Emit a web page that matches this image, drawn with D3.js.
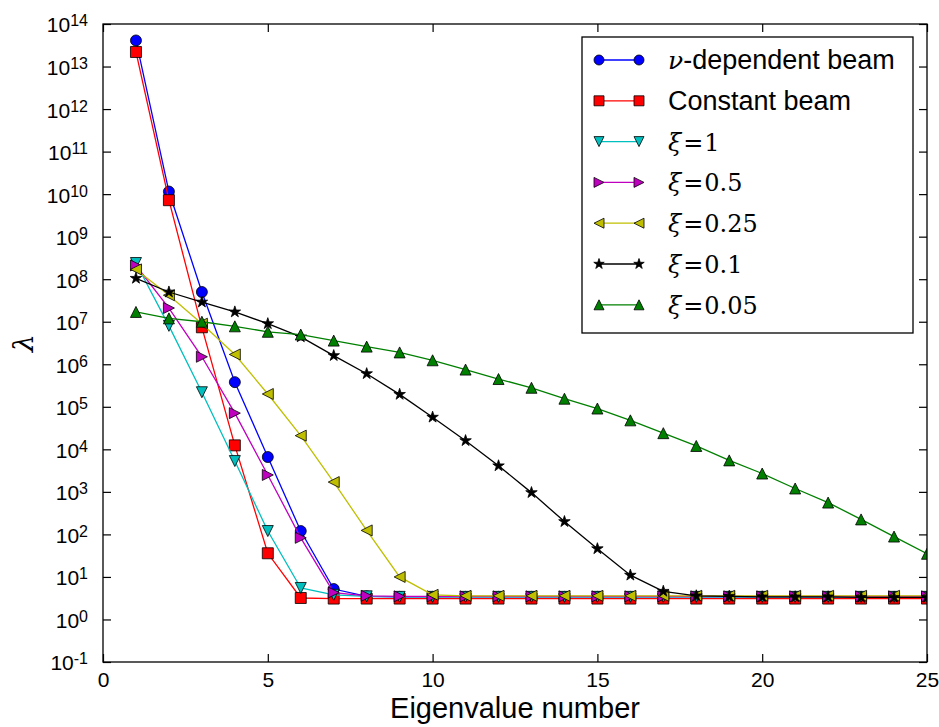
<!DOCTYPE html>
<html><head><meta charset="utf-8">
<script src="https://cdn.jsdelivr.net/npm/d3@7"></script>
<style>body{margin:0;background:#fff}</style>
</head><body><svg id="c" width="939" height="727"></svg>
<script>
// ---------- data ----------
const eigenNumber = [1,2,3,4,5,6,7,8,9,10,11,12,13,14,15,16,17,18,19,20,21,22,23,24,25];
const nuBeam   = [4.1e13,1.15e10,5.0e7,3.8e5,6.6e3,1.2e2,5.2,3.5,3.4,3.4,3.4,3.4,3.4,3.4,3.4,3.4,3.4,3.4,3.4,3.4,3.4,3.4,3.4,3.4,3.4];
const constBeam= [2.2e13,7.2e9,7.4e6,1.24e4,36,3.2,3.1,3.1,3.1,3.1,3.1,3.1,3.1,3.1,3.1,3.1,3.1,3.1,3.1,3.1,3.1,3.1,3.1,3.1,3.1];
const xi1      = [2.4e8,8.0e6,2.2e5,5.3e3,1.2e2,5.5,3.8,3.5,3.4,3.4,3.4,3.4,3.4,3.4,3.4,3.4,3.4,3.4,3.4,3.4,3.4,3.4,3.4,3.4,3.4];
const xi05     = [2.1e8,2.1e7,1.5e6,7.1e4,2.5e3,83,4.3,3.6,3.5,3.5,3.5,3.5,3.5,3.5,3.5,3.5,3.5,3.5,3.5,3.5,3.5,3.5,3.5,3.5,3.5];
const xi025    = [1.7e8,4.2e7,9.0e6,1.7e6,2.0e5,2.1e4,1.7e3,1.24e2,10,3.8,3.6,3.6,3.6,3.6,3.6,3.6,3.6,3.6,3.6,3.6,3.6,3.6,3.6,3.6,3.6];
const xi01     = [1.05e8,5.0e7,2.9e7,1.7e7,9.0e6,4.4e6,1.6e6,6.0e5,1.96e5,5.7e4,1.6e4,4.1e3,9.6e2,2.0e2,46,11,4.6,3.6,3.5,3.4,3.4,3.4,3.3,3.3,3.3];
const xi005    = [1.7e7,1.2e7,1.0e7,7.8e6,5.8e6,5.0e6,3.6e6,2.6e6,1.9e6,1.24e6,7.5e5,4.5e5,2.8e5,1.55e5,9.1e4,4.8e4,2.4e4,1.2e4,5.5e3,2.7e3,1.2e3,5.6e2,2.25e2,89,35];

const seriesNames = ["ν-dependent beam","Constant beam","ξ=1","ξ=0.5","ξ=0.25","ξ=0.1","ξ=0.05"];
const seriesValues = [nuBeam,constBeam,xi1,xi05,xi025,xi01,xi005];
const seriesColors = ["#0000ff","#ff0000","#00bfbf","#bf00bf","#bfbf00","#000000","#008000"];
const seriesMarkers = ["circle","square","tdown","tright","tleft","star","tup"];

const xTicks = [0,5,10,15,20,25];
const yTickExponents = [-1,0,1,2,3,4,5,6,7,8,9,10,11,12,13,14];
const xLabel = "Eigenvalue number";
const yLabel = "λ";

// ---------- layout ----------
const W = 939, H = 727;
const L = 103, R = 927, T = 24, B = 662;
const svg = d3.select("#c");
const sansFont = "'Liberation Sans', Arial, Helvetica, sans-serif";
const serifFont = "'DejaVu Serif', 'Liberation Serif', serif";

const x = d3.scaleLinear().domain([0,25]).range([L,R]);
const y = d3.scaleLog().domain([1e-1,1e14]).range([B,T]);

// ---------- marker shapes ----------
function markerPath(kind, s){
  const h = s/2;
  const p = d3.path();
  if(kind==="circle"){ p.arc(0,0,h,0,2*Math.PI); }
  else if(kind==="square"){ p.rect(-h,-h,s,s); }
  else if(kind==="tup"){ p.moveTo(0,-h); p.lineTo(h,h); p.lineTo(-h,h); p.closePath(); }
  else if(kind==="tdown"){ p.moveTo(0,h); p.lineTo(h,-h); p.lineTo(-h,-h); p.closePath(); }
  else if(kind==="tright"){ p.moveTo(h,0); p.lineTo(-h,h); p.lineTo(-h,-h); p.closePath(); }
  else if(kind==="tleft"){ p.moveTo(-h,0); p.lineTo(h,h); p.lineTo(h,-h); p.closePath(); }
  else if(kind==="star"){
    const ro = h*1.1, ri = ro*0.381966;
    for(let i=0;i<10;i++){
      const r = i%2===0?ro:ri;
      const a = -Math.PI/2 + i*Math.PI/5;
      if(i===0) p.moveTo(r*Math.cos(a), r*Math.sin(a)); else p.lineTo(r*Math.cos(a), r*Math.sin(a));
    }
    p.closePath();
  }
  return p.toString();
}
const markerSize = 11;

// ---------- clip ----------
svg.append("defs").append("clipPath").attr("id","clip")
  .append("rect").attr("x",L).attr("y",T).attr("width",R-L).attr("height",B-T);

const plot = svg.append("g").attr("clip-path","url(#clip)");
const line = d3.line().x((d,i)=>x(eigenNumber[i])).y(d=>y(d));

seriesValues.forEach((vals,si)=>{
  const g = plot.append("g");
  g.append("path").datum(vals).attr("d",line)
    .attr("fill","none").attr("stroke",seriesColors[si]).attr("stroke-width",1.3);
  g.selectAll("path.m").data(vals).enter().append("path").attr("class","m")
    .attr("transform",(d,i)=>`translate(${x(eigenNumber[i])},${y(d)})`)
    .attr("d",markerPath(seriesMarkers[si],markerSize))
    .attr("fill",seriesColors[si]).attr("stroke","#000").attr("stroke-width",0.8);
});

// ---------- axes ----------
const gx = svg.append("g").attr("transform",`translate(0,${B})`)
  .call(d3.axisBottom(x).tickValues(xTicks).tickSize(-8).tickPadding(10).tickFormat(d3.format("d")));
const gxt = svg.append("g").attr("transform",`translate(0,${T})`)
  .call(d3.axisTop(x).tickValues(xTicks).tickSize(-8).tickFormat(""));
const yTickVals = yTickExponents.map(e=>Math.pow(10,e));
const gy = svg.append("g").attr("transform",`translate(${L},0)`)
  .call(d3.axisLeft(y).tickValues(yTickVals).tickSize(-8).tickPadding(15).tickFormat(""));
const gyr = svg.append("g").attr("transform",`translate(${R},0)`)
  .call(d3.axisRight(y).tickValues(yTickVals).tickSize(-8).tickFormat(""));

[gx,gxt,gy,gyr].forEach(g=>{
  g.select(".domain").remove();
  g.selectAll(".tick line").attr("stroke","#000").attr("stroke-width",1.2);
});
gx.selectAll(".tick text").attr("font-family",sansFont).attr("font-size",21).attr("fill","#000");
gy.selectAll(".tick text").each(function(d,i){
  const t = d3.select(this);
  t.attr("font-family",sansFont).attr("font-size",21).attr("fill","#000").attr("dy","0.38em");
  t.append("tspan").text("10");
  t.append("tspan").attr("dy",-6).attr("font-size",16).text(String(yTickExponents[i]));
});

svg.append("rect").attr("x",L).attr("y",T).attr("width",R-L).attr("height",B-T)
  .attr("fill","none").attr("stroke","#000").attr("stroke-width",1.3);

svg.append("text").attr("x",(L+R)/2).attr("y",718).attr("text-anchor","middle")
  .attr("font-family",sansFont).attr("font-size",29).attr("fill","#000").text(xLabel);
svg.append("text").attr("transform","translate(33,343) rotate(-90)").attr("text-anchor","middle")
  .attr("font-family",serifFont).attr("font-style","italic").attr("font-size",28).attr("fill","#000").text(yLabel);

// ---------- legend ----------
const lg = svg.append("g");
lg.append("rect").attr("x",582).attr("y",37).attr("width",331).attr("height",296)
  .attr("fill","#fff").attr("stroke","#000").attr("stroke-width",1.3);
seriesNames.forEach((name,si)=>{
  const cy = 60 + si*40.8;
  lg.append("line").attr("x1",599).attr("x2",639).attr("y1",cy).attr("y2",cy)
    .attr("stroke",seriesColors[si]).attr("stroke-width",1.3);
  [599,639].forEach(cx=>{
    lg.append("path").attr("transform",`translate(${cx},${cy})`)
      .attr("d",markerPath(seriesMarkers[si],10))
      .attr("fill",seriesColors[si]).attr("stroke","#000").attr("stroke-width",0.8);
  });
  const t = lg.append("text").attr("x",668).attr("y",cy+9).attr("fill","#000");
  if(name.startsWith("ξ")){
    const val = name.split("=")[1];
    t.attr("font-family",serifFont).attr("font-size",24);
    t.append("tspan").attr("font-style","italic").text("ξ");
    t.append("tspan").attr("dx",2).text("=");
    t.append("tspan").attr("dx",1).text(val);
  } else if(name.startsWith("ν")){
    t.attr("font-family",sansFont).attr("font-size",27);
    t.append("tspan").attr("font-family",serifFont).attr("font-style","italic").attr("font-size",25).text("ν");
    t.append("tspan").text(name.slice(1));
  } else {
    t.attr("font-family",sansFont).attr("font-size",27).text(name);
  }
});
</script></body></html>
